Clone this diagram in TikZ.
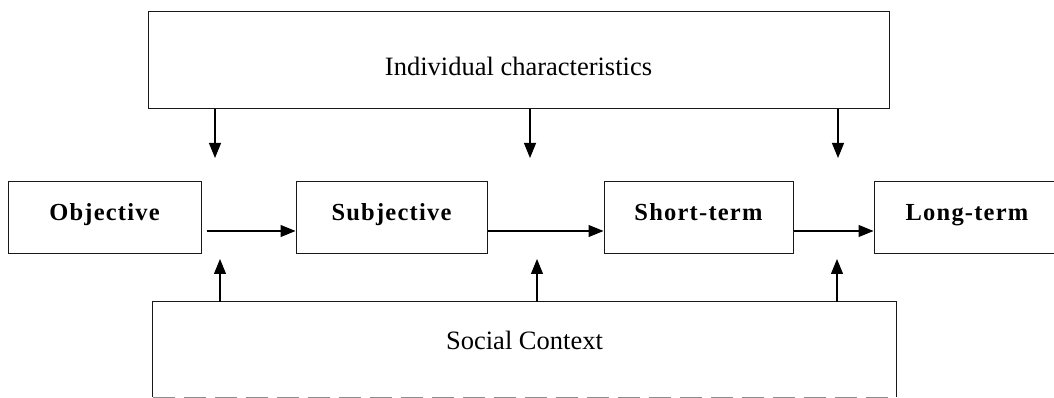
\documentclass[tikz,border=0pt]{standalone}
\usepackage{fontspec}
\setmainfont{Liberation Serif}
\newfontfamily\stagefont[LetterSpace=5]{Liberation Serif}
\usetikzlibrary{arrows.meta, positioning}

\begin{document}
\begin{tikzpicture}[x=1pt, y=1pt,
  stagebox/.style={draw=black!90, line width=1pt, minimum height=72pt, inner sep=0pt,
    font=\stagefont\bfseries\fontsize{24.5}{24.5}\selectfont, text height=13pt, text depth=8pt},
  outerbox/.style={inner sep=0pt, font=\fontsize{26.5}{26.5}\selectfont},
  flow/.style={->, >={Triangle[length=15pt, width=12pt]}, line width=1.1pt}]
\useasboundingbox (0,0) rectangle (1054,398);

\node [outerbox, draw=black!90, line width=1pt, minimum width=741pt, minimum height=97pt,
  text height=30pt, text depth=0pt] (indiv) at (518.5,337.5) {Individual characteristics};

\node [stagebox, minimum width=193pt] (obj)   at (104.5,180) {Objective};
\node [stagebox, minimum width=191pt] (subj)  at (391.5,180) {Subjective};
\node [stagebox, minimum width=189pt] (short) at (698.5,180) {Short-term};
\node [stagebox, minimum width=186pt] (long)  at (967,180)   {Long-term};

\node [outerbox, minimum width=743pt, minimum height=95pt,
  text height=13pt, text depth=12pt] (social) at (524.5,48.5) {Social Context};
\draw [black!90, line width=1pt] (social.south west) -- (social.north west)
  -- (social.north east) -- (social.south east);
\draw [black!45, line width=1pt, dash pattern=on 22pt off 9pt] (social.south west) -- (social.south east);

\coordinate (d1) at (215,240);
\coordinate (d2) at (530,240);
\coordinate (d3) at (838,240);
\draw [flow] (indiv.south -| d1) -- (d1);
\draw [flow] (indiv.south -| d2) -- (d2);
\draw [flow] (indiv.south -| d3) -- (d3);

\draw [flow] ([xshift=5pt, yshift=-13pt]obj.east) -- ([yshift=-13pt]subj.west);
\draw [flow] ([yshift=-13pt]subj.east) -- ([yshift=-13pt]short.west);
\draw [flow] ([yshift=-13pt]short.east) -- ([yshift=-13pt]long.west);

\coordinate (u1) at (220,139);
\coordinate (u2) at (537,139);
\coordinate (u3) at (837,139);
\draw [flow] (social.north -| u1) -- (u1);
\draw [flow] (social.north -| u2) -- (u2);
\draw [flow] (social.north -| u3) -- (u3);
\end{tikzpicture}
\end{document}
